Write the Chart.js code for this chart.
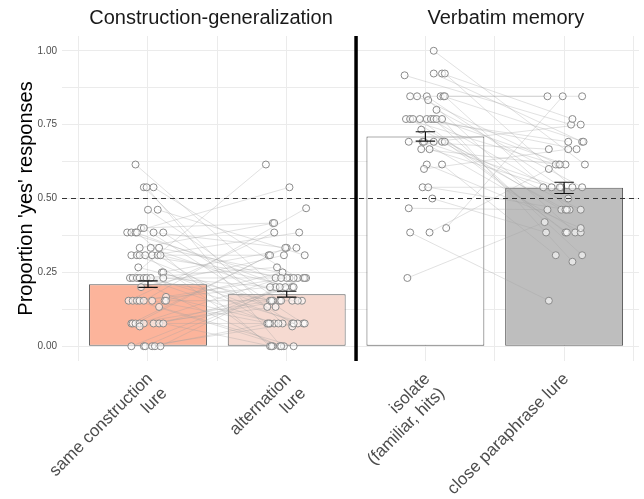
<!DOCTYPE html>
<html>
<head>
<meta charset="utf-8">
<script src="https://cdn.jsdelivr.net/npm/chart.js@4.4.0/dist/chart.umd.min.js"></script>
<style>
  html, body { margin: 0; padding: 0; background: #fff; }
  #wrap { width: 644px; height: 499px; }
</style>
</head>
<body>
<div id="wrap"><canvas id="chart"></canvas></div>
<script>
// conditions on the x axis (1..4)
const conditions = [
  ["same construction", "lure"],
  ["alternation", "lure"],
  ["isolate", "(familiar, hits)"],
  ["close paraphrase lure"],
];
const panelTitles = ["Construction-generalization", "Verbatim memory"];

// mean proportion of 'yes' responses and standard error
const meanYes = [0.210, 0.176, 0.710, 0.536];
const seYes = [0.011, 0.010, 0.016, 0.019];
const chanceLevel = 0.5;

// participants, construction-generalization (same construction lure -> alternation lure)
const sameY = [0.615, 0.538, 0.538, 0.538, 0.462, 0.462, 0.40, 0.40, 0.385, 0.385,
  0.385, 0.385, 0.385, 0.385, 0.333, 0.333, 0.333, 0.308, 0.308, 0.308,
  0.308, 0.308, 0.308, 0.308, 0.267, 0.25, 0.25, 0.231, 0.231, 0.231,
  0.231, 0.231, 0.231, 0.231, 0.231, 0.20, 0.167, 0.154, 0.154, 0.154,
  0.154, 0.154, 0.154, 0.154, 0.154, 0.133, 0.077, 0.077, 0.077, 0.077,
  0.077, 0.077, 0.077, 0.077, 0.067, 0, 0, 0, 0, 0, 0];
const sameJit = [-0.09, -0.03, -0.01, 0.04, 0.00, 0.07, -0.05, -0.03, -0.15, -0.12,
  -0.09, -0.08, 0.04, 0.11, -0.06, 0.02, 0.08, -0.12, -0.08, -0.06,
  -0.02, 0.03, 0.07, 0.09, -0.07, 0.10, 0.11, -0.13, -0.11, -0.08,
  -0.06, -0.03, -0.01, 0.02, 0.11, -0.05, 0.13, -0.14, -0.11, -0.08,
  -0.06, -0.03, 0.03, 0.12, 0.13, 0.08, -0.12, -0.11, -0.09, -0.06,
  -0.03, 0.04, 0.08, 0.11, -0.06, -0.12, -0.03, -0.02, 0.03, 0.05, 0.09];
const altY = [0.154, 0.077, 0, 0.231, 0.154, 0.308, 0.417, 0.077, 0.231, 0.538,
  0.20, 0, 0.333, 0.077, 0.417, 0.154, 0.231, 0.308, 0.133, 0.231,
  0, 0.385, 0.077, 0.20, 0.154, 0.333, 0.077, 0.615, 0, 0.154,
  0.267, 0.077, 0.231, 0.077, 0.20, 0.308, 0.067, 0.385, 0.20, 0,
  0.231, 0.467, 0.077, 0.25, 0.154, 0, 0.333, 0.154, 0.308, 0.231,
  0.133, 0.077, 0.20, 0, 0.154, 0.231, 0.077, 0.231, 0.077, 0, 0.20];
const altJit = [0.04, -0.03, -0.04, 0.08, -0.05, 0.13, -0.10, 0.04, -0.08, 0.02,
  -0.01, -0.12, 0.00, 0.12, -0.09, 0.11, 0.14, -0.13, -0.14, 0.02,
  -0.10, 0.09, -0.14, 0.04, -0.12, 0.07, 0.08, -0.15, -0.05, -0.10,
  -0.07, -0.09, 0.05, 0.13, -0.08, -0.02, 0.04, -0.09, -0.12, -0.02,
  0.00, 0.14, -0.12, -0.03, 0.08, 0.05, -0.01, -0.11, -0.12, -0.04,
  -0.08, -0.06, 0.05, -0.11, -0.04, 0.12, 0.05, 0.13, -0.13, -0.04, -0.05];

// participants, verbatim memory (isolate -> close paraphrase lure)
const isoY = [1.0, 0.917, 0.923, 0.923, 0.923, 0.846, 0.846, 0.846, 0.846, 0.846,
  0.846, 0.833, 0.80, 0.769, 0.769, 0.769, 0.769, 0.769, 0.769, 0.769,
  0.769, 0.769, 0.733, 0.692, 0.692, 0.692, 0.692, 0.692, 0.692, 0.667,
  0.667, 0.615, 0.615, 0.60, 0.538, 0.538, 0.50, 0.467, 0.40, 0.385,
  0.385, 0.231];
const isoJit = [0.06, -0.15, 0.06, 0.12, 0.14, -0.11, -0.06, 0.01, 0.11, 0.13,
  0.14, 0.02, 0.08, -0.14, -0.11, -0.09, -0.04, 0.01, 0.04, 0.06,
  0.08, 0.12, -0.03, -0.12, -0.02, -0.01, 0.06, 0.12, 0.14, -0.03,
  0.03, 0.01, 0.12, -0.01, -0.02, 0.02, 0.05, -0.12, 0.15, -0.11,
  0.03, -0.13];
const paraY = [0.615, 0.75, 0.692, 0.769, 0.538, 0.846, 0.615, 0.538, 0.846, 0.692,
  0.462, 0.385, 0.538, 0.615, 0.462, 0.692, 0.385, 0.667, 0.50, 0.308,
  0.615, 0.286, 0.462, 0.667, 0.385, 0.538, 0.75, 0.462, 0.385, 0.615,
  0.538, 0.40, 0.308, 0.667, 0.538, 0.462, 0.385, 0.462, 0.846, 0.154,
  0.60, 0.42];
const paraJit = [0.15, 0.05, 0.13, 0.06, 0.06, -0.12, -0.04, -0.02, 0.13, 0.14,
  0.04, 0.08, 0.13, -0.06, -0.02, 0.03, 0.01, 0.09, 0.03, 0.13,
  0.01, 0.06, 0.12, -0.11, 0.12, -0.03, 0.12, 0.01, 0.02, -0.03,
  -0.09, 0.12, -0.06, 0.03, -0.15, 0.02, -0.13, -0.12, -0.01, -0.11,
  -0.11, -0.14];

const barColors = ["#fcb49b", "#f6dad1", "#ffffff", "#bebebe"];

// build datasets
const pairLines = [];
const points = [];
function addPairs(ys1, js1, ys2, js2, x1, x2) {
  for (let i = 0; i < ys1.length; i++) {
    const a = { x: x1 + js1[i], y: ys1[i] };
    const b = { x: x2 + js2[i], y: ys2[i] };
    pairLines.push({
      type: "line",
      data: [a, b],
      borderColor: "rgba(160,160,160,0.4)",
      borderWidth: 0.8,
      pointRadius: 0,
      order: 2,
    });
    points.push(a, b);
  }
}
addPairs(sameY, sameJit, altY, altJit, 1, 2);
addPairs(isoY, isoJit, paraY, paraJit, 3, 4);

// error bars, reference line, facet divider and facet titles
const extras = {
  id: "extras",
  afterDatasetsDraw(chart) {
    const { ctx, chartArea, scales } = chart;
    const x = scales.x, y = scales.y;
    ctx.save();
    // error bars
    ctx.strokeStyle = "#111";
    ctx.lineWidth = 1.2;
    meanYes.forEach((m, i) => {
      const cx = x.getPixelForValue(i + 1);
      const half = (x.getPixelForValue(1.07) - x.getPixelForValue(1));
      const lo = y.getPixelForValue(m - seYes[i]);
      const hi = y.getPixelForValue(m + seYes[i]);
      ctx.beginPath();
      ctx.moveTo(cx, lo); ctx.lineTo(cx, hi);
      ctx.moveTo(cx - half, lo); ctx.lineTo(cx + half, lo);
      ctx.moveTo(cx - half, hi); ctx.lineTo(cx + half, hi);
      ctx.stroke();
    });
    // dashed chance line
    const yc = y.getPixelForValue(chanceLevel);
    ctx.strokeStyle = "#333";
    ctx.lineWidth = 1.2;
    ctx.setLineDash([5, 4]);
    ctx.beginPath();
    ctx.moveTo(chartArea.left, yc);
    ctx.lineTo(chartArea.right, yc);
    ctx.stroke();
    ctx.setLineDash([]);
    // divider between panels
    const xd = x.getPixelForValue(2.5);
    ctx.strokeStyle = "#000";
    ctx.lineWidth = 3.5;
    ctx.beginPath();
    ctx.moveTo(xd, chartArea.top);
    ctx.lineTo(xd, chartArea.bottom);
    ctx.stroke();
    // panel titles
    ctx.fillStyle = "#1a1a1a";
    ctx.font = "20px 'Liberation Sans', Arial, sans-serif";
    ctx.textAlign = "center";
    ctx.textBaseline = "middle";
    ctx.fillText(panelTitles[0], (chartArea.left + xd) / 2 + 2, 18);
    ctx.fillText(panelTitles[1], x.getPixelForValue(3.58), 18);
    ctx.restore();
  },
};

Chart.defaults.font.family = "'Liberation Sans', Arial, sans-serif";

new Chart(document.getElementById("chart"), {
  type: "bar",
  data: {
    datasets: [
      {
        type: "bar",
        data: meanYes.map((v, i) => ({ x: i + 1, y: v })),
        backgroundColor: barColors,
        borderColor: "#595959",
        borderWidth: 1,
        borderSkipped: false,
        // the bar ruler uses the 0.5-step grid ticks, so 1.7 gives 0.85 of a category
        barPercentage: 1.7,
        categoryPercentage: 1,
        order: 3,
      },
      ...pairLines,
      {
        type: "scatter",
        data: points,
        pointRadius: 3.5,
        pointBorderWidth: 1,
        pointBorderColor: "#8a8a8a",
        pointBackgroundColor: "rgba(255,255,255,0.6)",
        order: 1,
      },
    ],
  },
  options: {
    responsive: true,
    maintainAspectRatio: false,
    animation: false,
    events: [],
    layout: { padding: { top: 36, left: 0, right: 0, bottom: 0 } },
    plugins: { legend: { display: false }, tooltip: { enabled: false } },
    scales: {
      x: {
        type: "linear",
        min: 0.38,
        max: 4.54,
        offset: false,
        grid: { color: "#ebebeb", lineWidth: 1, drawTicks: false, offset: false },
        border: { display: false },
        afterBuildTicks(scale) {
          scale.ticks = [0.5, 1, 1.5, 2, 2.5, 3, 3.5, 4, 4.5].map((v) => ({ value: v }));
        },
        afterFit(scale) {
          scale.height = 138;
          scale.paddingLeft = 0;
          scale.paddingRight = 0;
        },
        ticks: {
          autoSkip: false,
          minRotation: 45,
          maxRotation: 45,
          color: "#4d4d4d",
          font: { size: 17 },
          padding: 8,
          labelOffset: 2,
          callback: (v) => (Number.isInteger(v) ? conditions[v - 1] : ""),
        },
      },
      y: {
        min: -0.05,
        max: 1.05,
        grid: { color: "#ebebeb", lineWidth: 1, drawTicks: false },
        border: { display: false },
        afterBuildTicks(scale) {
          const t = [];
          for (let v = 0; v <= 8; v++) t.push({ value: v / 8 });
          scale.ticks = t;
        },
        afterFit(scale) { scale.width = 62; },
        title: {
          display: true,
          text: "Proportion 'yes' responses",
          color: "#000",
          font: { size: 20 },
          padding: { top: 14, bottom: 0 },
        },
        ticks: {
          color: "#4d4d4d",
          font: { size: 10 },
          padding: 5,
          callback: (v) => (Math.round(v * 8) % 2 === 0 ? v.toFixed(2) : ""),
        },
      },
    },
  },
  plugins: [extras],
});
</script>
</body>
</html>
